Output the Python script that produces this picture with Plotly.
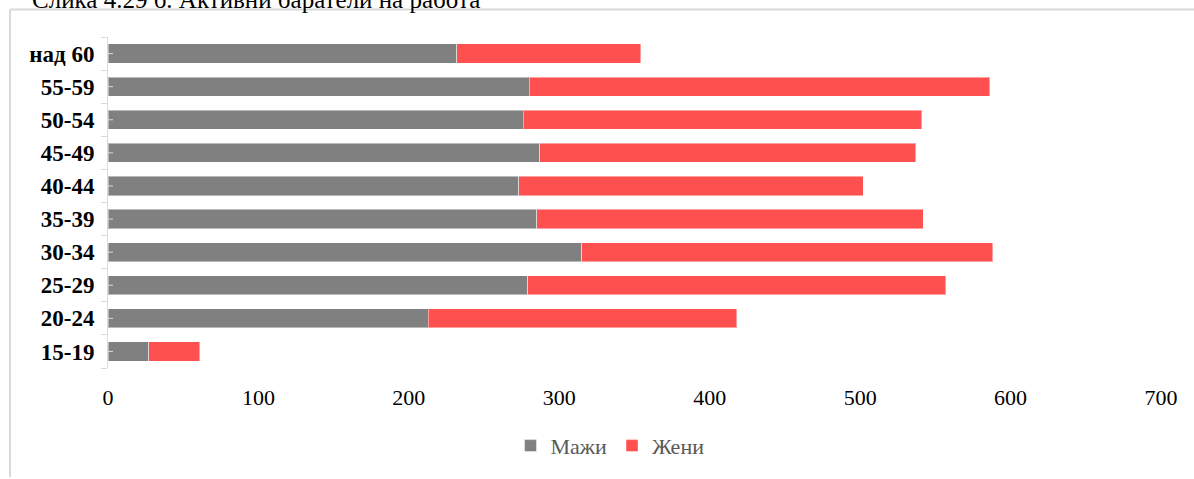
import plotly.graph_objects as go

# Age groups, bottom to top
age_groups = ["15-19", "20-24", "25-29", "30-34", "35-39",
              "40-44", "45-49", "50-54", "55-59", "над 60"]
men = [27, 213, 279, 315, 285, 273, 287, 276, 280, 232]
women = [34, 205, 278, 273, 257, 229, 250, 265, 306, 122]
x_ticks = [0, 100, 200, 300, 400, 500, 600, 700]

SERIF = "Liberation Serif, Times New Roman, serif"
W, H = 1194, 479
L, R, T, B = 108, 33, 37, 106
pw, ph = W - L - R, H - T - B

fig = go.Figure()
fig.add_trace(go.Bar(
    y=age_groups, x=men, orientation="h", name="Мажи",
    marker=dict(color="#808080", line=dict(color="rgba(255,255,255,0.45)", width=1)),
))
fig.add_trace(go.Bar(
    y=age_groups, x=women, orientation="h", name="Жени",
    marker=dict(color="#FF5050", line=dict(color="rgba(255,255,255,0.45)", width=1)),
))

def px_x(p):
    return (p - L) / pw

def px_y(p):
    return (H - B - p) / ph

shapes = [
    # outer chart frame (left and top edges)
    dict(type="line", xref="paper", yref="paper", x0=px_x(10), x1=px_x(10),
         y0=px_y(H + 5), y1=px_y(9), line=dict(color="#D9D9D9", width=2)),
    dict(type="line", xref="paper", yref="paper", x0=px_x(10), x1=px_x(W + 5),
         y0=px_y(9), y1=px_y(9), line=dict(color="#D9D9D9", width=2)),
]
# small inner marks at each category centre
for g in age_groups:
    shapes.append(dict(type="line", xref="paper", yref="y", x0=0, x1=px_x(113),
                       y0=g, y1=g, line=dict(color="#D9D9D9", width=1)))

fig.update_layout(
    width=W, height=H,
    margin=dict(l=L, r=R, t=T, b=B),
    paper_bgcolor="white", plot_bgcolor="white",
    barmode="stack", bargap=0.42,
    font=dict(family=SERIF, color="#000000"),
    showlegend=True,
    legend=dict(orientation="h", x=px_x(610), xanchor="center",
                y=px_y(452), yanchor="middle",
                font=dict(family=SERIF, size=22, color="#595959"),
                itemwidth=30, traceorder="normal"),
    shapes=shapes,
    annotations=[dict(
        text="Слика 4.29 б. Активни баратели на работа",
        xref="paper", yref="paper", x=px_x(30), y=px_y(-1),
        xanchor="left", yanchor="middle", showarrow=False,
        font=dict(family=SERIF, size=25, color="#000000"),
    )],
)
fig.update_xaxes(
    range=[0, 700], tickvals=x_ticks, showgrid=False, zeroline=False,
    showline=False, ticks="",
    tickfont=dict(family=SERIF, size=22, color="#000000"),
    ticklabelstandoff=14,
)
fig.update_yaxes(
    type="category", categoryorder="array", categoryarray=age_groups,
    showgrid=False, zeroline=False, showline=True, linecolor="#D9D9D9", linewidth=1,
    ticks="outside", tickson="boundaries", ticklen=6, tickcolor="#D9D9D9",
    tickfont=dict(family=SERIF, size=23, color="#000000"),
    ticklabelstandoff=8,
)
fig.update_yaxes(tickprefix="<b>", ticksuffix="</b>")

fig.write_html("out.html")
